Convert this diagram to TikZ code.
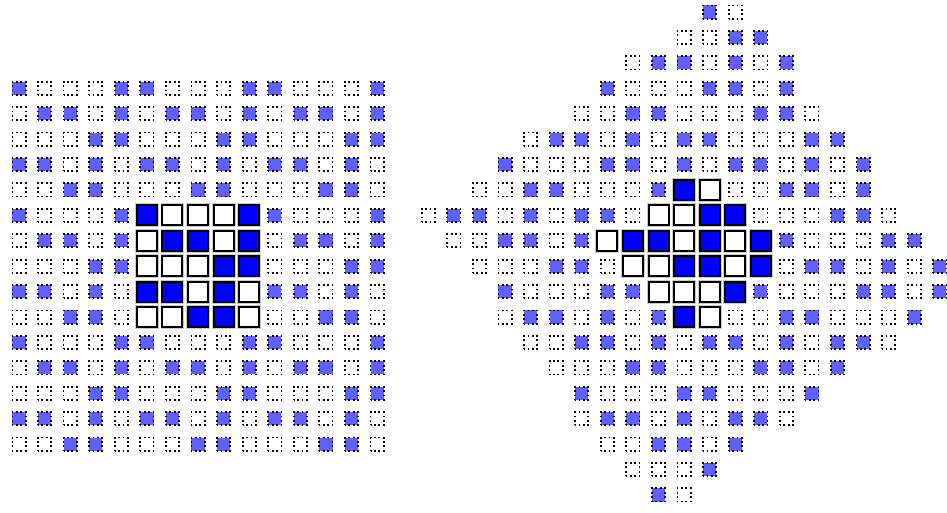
\documentclass[tikz,border=0pt]{standalone}
\definecolor{lblue}{RGB}{96,96,255}
\definecolor{sblue}{RGB}{0,0,255}
\tikzset{
  cbase/.style={rectangle, inner sep=0pt, outer sep=0pt},
  c0/.style={cbase, minimum size=13.2pt, draw=black, line width=1.8pt,
    dash pattern=on 1.8pt off 2.6pt, dash phase=0.9pt, fill=white},
  c1/.style={c0, fill=lblue},
  c2/.style={cbase, minimum size=20pt, draw=black, line width=2pt, fill=white,
    preaction={draw=gray!40, line width=3.8pt}},
  c3/.style={c2, fill=sblue},
}
\begin{document}
\begin{tikzpicture}[x=1pt,y=-1pt]
\useasboundingbox (0,0) rectangle (947,512);
% left grid (global rows 3..17, cols 0..14) and right diamond (rows 0..19, cols 16..36)
\foreach \r/\s/\vals in {
  3/0/{1,0,0,0,1,1,0,0,0,1,1,0,0,0,1},
  4/0/{0,1,1,0,1,0,1,1,0,1,0,1,1,0,1},
  5/0/{0,0,0,1,1,0,0,0,1,1,0,0,0,1,1},
  6/0/{1,1,0,1,0,1,1,0,1,0,1,1,0,1,0},
  7/0/{0,0,1,1,0,0,0,1,1,0,0,0,1,1,0},
  8/0/{1,0,0,0,1,3,2,2,2,3,1,0,0,0,1},
  9/0/{0,1,1,0,1,2,3,3,2,3,0,1,1,0,1},
  10/0/{0,0,0,1,1,2,2,2,3,3,0,0,0,1,1},
  11/0/{1,1,0,1,0,3,3,2,3,2,1,1,0,1,0},
  12/0/{0,0,1,1,0,2,2,3,3,2,0,0,1,1,0},
  13/0/{1,0,0,0,1,1,0,0,0,1,1,0,0,0,1},
  14/0/{0,1,1,0,1,0,1,1,0,1,0,1,1,0,1},
  15/0/{0,0,0,1,1,0,0,0,1,1,0,0,0,1,1},
  16/0/{1,1,0,1,0,1,1,0,1,0,1,1,0,1,0},
  17/0/{0,0,1,1,0,0,0,1,1,0,0,0,1,1,0},
  0/27/{1,0},
  1/26/{0,0,1,1},
  2/24/{0,1,1,0,1,0,1},
  3/23/{1,0,0,0,1,1,0,1},
  4/22/{0,0,1,1,0,0,0,1,1,0},
  5/20/{0,1,1,0,1,0,1,1,0,0,0,1,1},
  6/19/{1,0,0,0,1,1,0,1,0,1,1,0,1,0,1},
  7/18/{0,0,1,1,0,0,0,1,3,2,0,0,1,1,0,1},
  8/16/{0,1,1,0,1,0,1,1,0,2,2,3,3,0,0,0,1,1,0},
  9/17/{0,0,1,1,0,1,2,3,3,2,3,2,3,1,0,0,0,1,1},
  10/18/{0,0,0,1,1,0,2,2,3,3,2,3,0,1,1,0,1,0,1},
  11/19/{1,0,0,0,1,1,2,2,2,3,1,0,0,0,1,1,0,1},
  12/19/{0,1,1,0,1,0,1,3,2,0,0,1,1,0,0,0,1},
  13/20/{0,0,1,1,0,1,0,1,1,0,1,0,1,1,0},
  14/21/{0,0,0,1,1,0,0,0,1,1,0,1},
  15/22/{1,0,0,0,1,1,0,0,0,1},
  16/22/{0,1,1,0,1,0,1,1,0},
  17/23/{0,0,1,1,0,1},
  18/24/{0,0,0,1},
  19/25/{1,0}} {
  \foreach \v [count=\i from 0] in \vals {
    \pgfmathtruncatemacro\cc{\s+\i}
    \edef\cst{c\v}
    \node[\cst] (cell-\r-\cc) at ({19+25.58*\cc},{12+25.42*\r}) {};
  }
}
\end{tikzpicture}
\end{document}
